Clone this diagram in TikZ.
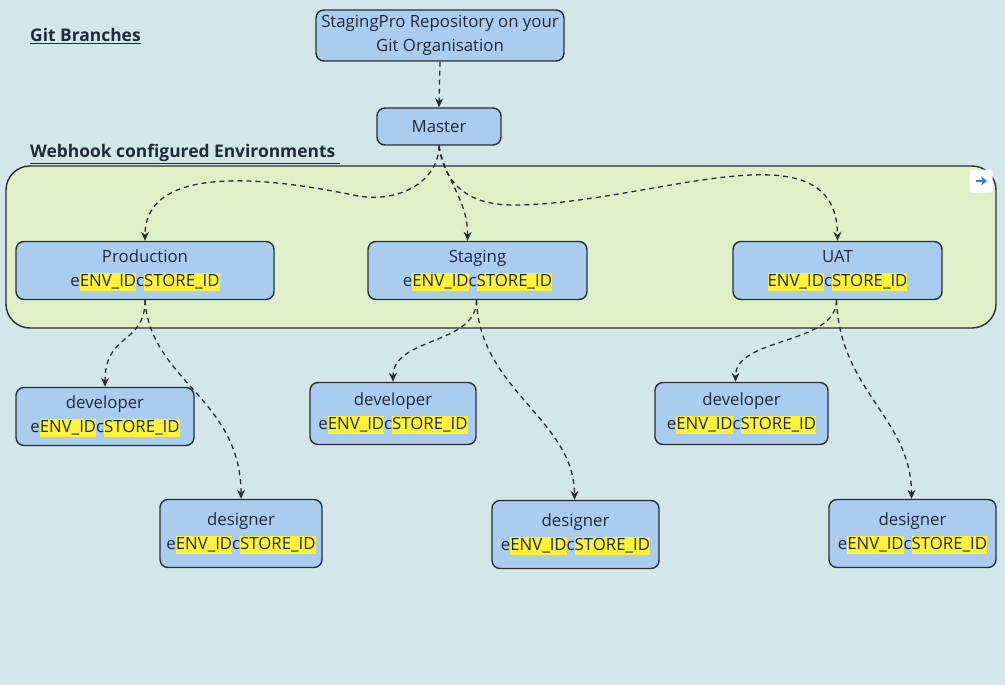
\documentclass[tikz,border=0pt]{standalone}
\usepackage{fontspec}
\setmainfont{Open Sans}
\usetikzlibrary{arrows.meta}
\definecolor{bg}{HTML}{D3E6EA}
\definecolor{grn}{HTML}{DEF0C8}
\definecolor{nodefill}{HTML}{A9CCEF}
\definecolor{edge}{HTML}{2A2E33}
\definecolor{txt}{HTML}{1F2A3A}
\definecolor{hly}{HTML}{FFF23A}
\definecolor{iconblue}{HTML}{2F7BE0}
\newcommand{\hlt}[1]{{\setlength{\fboxsep}{0pt}\colorbox{hly}{\rule[-4.5pt]{0pt}{18pt}#1}}}
\newcommand{\envline}[1]{#1\hlt{ENV\_ID}c\hlt{STORE\_ID}}
\tikzset{
  box/.style={draw=edge, line width=1.4pt, fill=nodefill, rounded corners=8pt, align=center,
    text=txt, font=\fontsize{16.8}{24}\selectfont, inner sep=0pt},
  heading/.style={font=\fontsize{17.4}{20}\selectfont\bfseries, text=txt, anchor=west, inner sep=0pt},
  conn/.style={draw=edge, line width=1.3pt, dash pattern=on 5pt off 4pt,
    -{Stealth[length=9pt,width=8pt]}},
}
\begin{document}
\begin{tikzpicture}[x=1pt,y=-1pt]
\useasboundingbox[fill=bg] (0,0) rectangle (1005,685);
% container
\node[draw=edge, line width=1.4pt, fill=grn, rounded corners=24pt, minimum width=990pt, minimum height=162pt, inner sep=0pt] (env) at (501,247) {};
% headings
\node[heading] (gitb) at (30,36) {\underline{Git Branches}};
\node[heading] (webh) at (30,154) {\underline{Webhook configured Environments\ }};
% nodes
\node[box, minimum width=248pt, minimum height=51pt] (repo) at (440,35.5) {StagingPro Repository on your\\Git Organisation};
\node[box, minimum width=124pt, minimum height=37pt] (master) at (439,126.5) {Master};
\node[box, minimum width=258pt, minimum height=58pt] (prod) at (145,270.5) {Production\\\envline{e}};
\node[box, minimum width=219pt, minimum height=58pt] (stag) at (477.5,270.5) {Staging\\\envline{e}};
\node[box, minimum width=209pt, minimum height=58pt] (uat) at (837.5,270.5) {UAT\\\envline{}};
\node[box, minimum width=178pt, minimum height=58pt] (dev1) at (105,416.5) {developer\\\envline{e}};
\node[box, minimum width=166pt, minimum height=62pt] (dev2) at (393,413.5) {developer\\\envline{e}};
\node[box, minimum width=173pt, minimum height=62pt] (dev3) at (741.5,413.5) {developer\\\envline{e}};
\node[box, minimum width=162pt, minimum height=68pt] (des1) at (241,533.5) {designer\\\envline{e}};
\node[box, minimum width=167pt, minimum height=68pt] (des2) at (575.5,534.5) {designer\\\envline{e}};
\node[box, minimum width=167pt, minimum height=68pt] (des3) at (912.5,533.5) {designer\\\envline{e}};
% icon
\node[fill=white, rounded corners=2pt, minimum width=23pt, minimum height=23pt, inner sep=0pt] (icon) at (981,181) {};
\draw[iconblue, line width=2.2pt, -{Stealth[length=6pt,width=9pt]}] ([xshift=-5pt]icon.center) -- ([xshift=6pt]icon.center);
% connectors
\draw[conn] (repo.south) -- (master.north);
\draw[conn] (master.south) .. controls (439,180) and (400,205) .. (353,195)
  .. controls (280,180) and (145,160) .. (prod.north);
\draw[conn] (master.south) .. controls (444,178) and (468,200) .. ([xshift=-10pt]stag.north);
\draw[conn] (master.south) .. controls (445,190) and (475,205) .. (513,205)
  .. controls (650,205) and (837,120) .. (uat.north);
\draw[conn] (prod.south) .. controls +(0,45) and +(0,-55) .. (dev1.north);
\draw[conn] (prod.south) .. controls +(5,80) and +(0,-100) .. (des1.north);
\draw[conn] ([xshift=-1pt]stag.south) .. controls +(0,45) and +(0,-45) .. (dev2.north);
\draw[conn] ([xshift=-1pt]stag.south) .. controls +(3,90) and +(0,-80) .. ([xshift=-1pt]des2.north);
\draw[conn] ([xshift=-1pt]uat.south) .. controls +(0,45) and +(0,-45) .. ([xshift=-6pt]dev3.north);
\draw[conn] ([xshift=-1pt]uat.south) .. controls +(3,90) and +(0,-80) .. ([xshift=-1pt]des3.north);
\end{tikzpicture}
\end{document}
